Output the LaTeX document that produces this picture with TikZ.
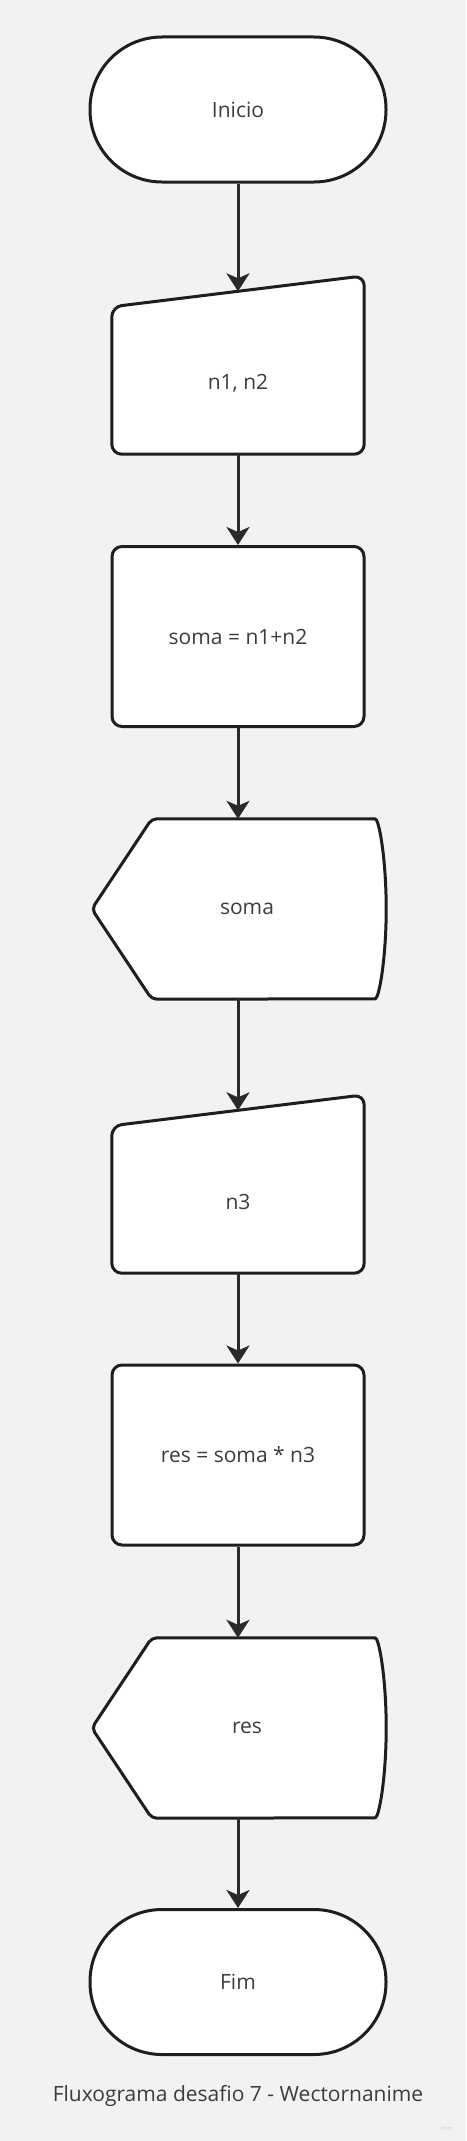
\documentclass[tikz,border=0pt]{standalone}
\usepackage{fontspec}
\setmainfont{Open Sans}
\usetikzlibrary{arrows.meta,calc}
\definecolor{bg}{HTML}{F2F2F2}
\definecolor{ln}{HTML}{1E1E1E}
\definecolor{ar}{HTML}{2A2A2A}
\definecolor{tx}{HTML}{3C3C3C}
\definecolor{wm}{HTML}{CFCFCF}
\begin{document}
\begin{tikzpicture}[x=1pt,y=-1pt,
  shp/.style={draw=ln, line width=3pt, fill=white, line join=round},
  lbl/.style={text=tx, inner sep=0pt, font=\fontsize{21}{25}\selectfont},
  term/.style={shp, lbl, rounded corners=72pt, minimum width=296pt, minimum height=145pt},
  proc/.style={shp, lbl, rounded corners=10pt, minimum width=252pt, minimum height=180pt},
  frame/.style={inner sep=0pt, minimum width=#1},
  arr/.style={draw=ar, line width=3pt, -{Stealth[length=18pt,width=23pt,inset=5pt]}},
]
\fill[bg] (0,0) rectangle (466,2141);
\useasboundingbox (0,0) rectangle (466,2141);

% Inicio
\node[term] (ini) at (238,109.5) {Inicio};

% manual input n1, n2
\node[frame=252pt, minimum height=178pt] (mi1) at (238,365) {};
\draw[shp, rounded corners=10pt] (mi1.south west) -- ($(mi1.north west)+(0,31)$) -- (mi1.north east) -- (mi1.south east) -- cycle;
\node[lbl] (mi1t) at (238,383) {n1, n2};
\coordinate (mi1in) at ($(mi1.north)+(0,15.5)$);

% process soma
\node[proc] (p1) at (238,636.5) {soma = n1+n2};

% display soma
\node[frame=294pt, minimum height=180pt] (d1) at (239,909) {};
\draw[shp, rounded corners=5pt] ($(d1.north east)+(-16,0)$) arc[start angle=-90,end angle=90,x radius=16,y radius=90]
  -- ($(d1.south west)+(60,0)$) -- (d1.west) -- ($(d1.north west)+(60,0)$) -- cycle;
\node[lbl] (d1t) at (247,909) {soma};

% manual input n3
\node[frame=252pt, minimum height=178pt] (mi2) at (238,1184) {};
\draw[shp, rounded corners=10pt] (mi2.south west) -- ($(mi2.north west)+(0,31)$) -- (mi2.north east) -- (mi2.south east) -- cycle;
\node[lbl] (mi2t) at (238,1202) {n3};
\coordinate (mi2in) at ($(mi2.north)+(0,15.5)$);

% process res
\node[proc] (p2) at (238,1455) {res = soma * n3};

% display res
\node[frame=294pt, minimum height=180pt] (d2) at (239,1728) {};
\draw[shp, rounded corners=5pt] ($(d2.north east)+(-16,0)$) arc[start angle=-90,end angle=90,x radius=16,y radius=90]
  -- ($(d2.south west)+(60,0)$) -- (d2.west) -- ($(d2.north west)+(60,0)$) -- cycle;
\node[lbl] (d2t) at (247,1728) {res};

% Fim
\node[term] (fim) at (238,1982) {Fim};

% connectors
\draw[arr] (ini.south) -- (mi1in);
\draw[arr] (mi1.south) -- (p1.north);
\draw[arr] (p1.south) -- (d1.north -| p1.south);
\draw[arr] (d1.south -| p1.south) -- (mi2in);
\draw[arr] (mi2.south) -- (p2.north);
\draw[arr] (p2.south) -- (d2.north -| p2.south);
\draw[arr] (d2.south -| p2.south) -- (fim.north);

% caption
\node[lbl] (cap) at (238,2096) {Fluxograma desafio 7 - Wectornanime};
\node[text=wm, inner sep=0pt, font=\fontsize{5.5}{6}\selectfont] (wmk) at (447,2128) {miro};
\end{tikzpicture}
\end{document}
